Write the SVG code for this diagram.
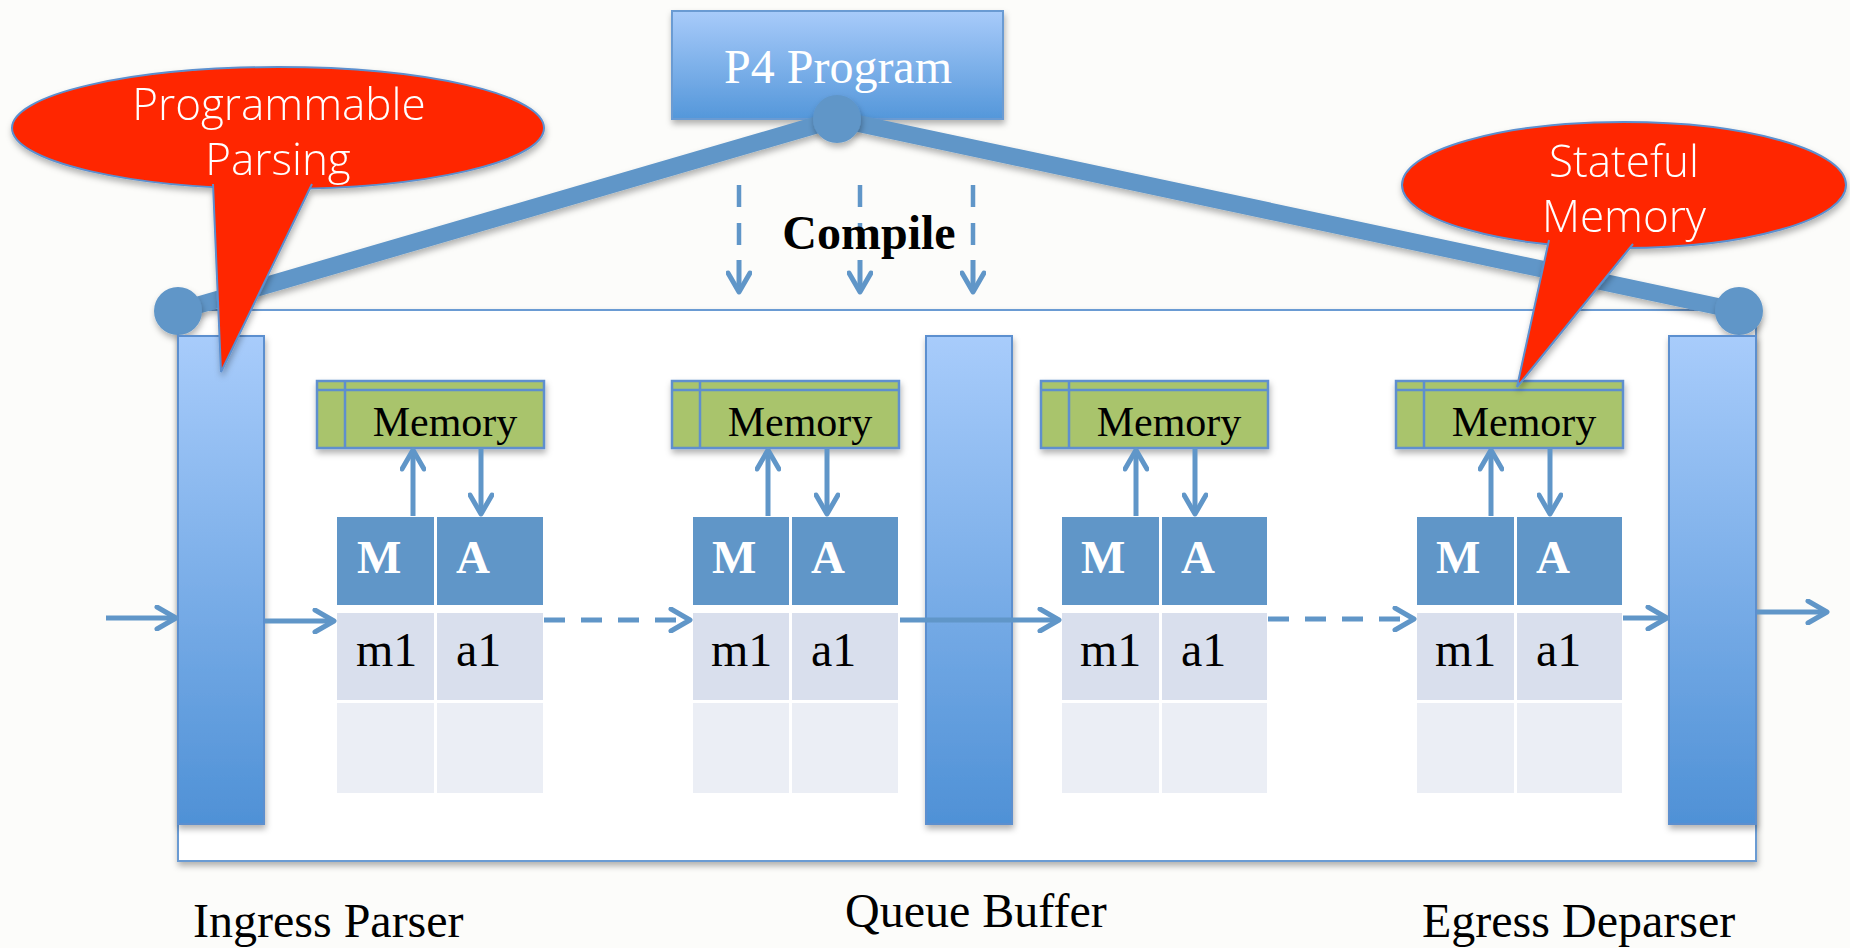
<svg xmlns="http://www.w3.org/2000/svg" width="1850" height="948" viewBox="0 0 1850 948">
<defs>
<linearGradient id="barGrad" x1="0" y1="0" x2="0" y2="1">
<stop offset="0" stop-color="#a8ccfb"/>
<stop offset="1" stop-color="#4f91d6"/>
</linearGradient>
<linearGradient id="p4Grad" x1="0" y1="0" x2="0" y2="1">
<stop offset="0" stop-color="#a8cbfa"/>
<stop offset="1" stop-color="#5497da"/>
</linearGradient>
<filter id="sh" x="-10%" y="-10%" width="130%" height="140%">
<feDropShadow dx="1" dy="4" stdDeviation="3" flood-color="#000" flood-opacity="0.3"/>
</filter>
<marker id="chev" viewBox="0 0 26 26" markerWidth="26" markerHeight="26" refX="22" refY="13" orient="auto" markerUnits="userSpaceOnUse">
<path d="M3,2 L22,13 L3,24" fill="none" stroke="#6096c8" stroke-width="5" stroke-linecap="round" stroke-linejoin="round"/>
</marker>
<style>
.bar{fill:url(#barGrad);stroke:#5b8fcf;stroke-width:2}
.mem{fill:#a9c46c;stroke:#5e8fce;stroke-width:2.5}
.memln{stroke:#5e8fce;stroke-width:2.5}
.hdr{fill:#6096c8}
.r1{fill:#d9dfed}
.r2{fill:#ebeef5}
.serif{font-family:"Liberation Serif","Times New Roman",serif}
.memtxt{font-size:42px;fill:#000;text-anchor:middle}
.hdrtxt{font-size:47px;font-weight:bold;fill:#fff}
.celltxt{font-size:48px;fill:#000}
.lbl{font-size:48px;fill:#000}
.arr{fill:none;stroke:#6096c8;stroke-width:5;marker-end:url(#chev)}
.dash{stroke-dasharray:21 16}
.thick{stroke:#6096c8;stroke-width:17;fill:none}
.callout{fill:#ff2600;stroke:#5b8fcf;stroke-width:2}
.ctxt{font-family:"Open Sans","Noto Sans",sans-serif;font-weight:300;font-size:44px;fill:#fff;text-anchor:middle}
</style>
</defs>
<rect x="0" y="0" width="1850" height="948" fill="#fcfcfa"/>

<g id="switch-box">
<rect x="178" y="310" width="1578" height="551" fill="#ffffff" stroke="#6a9bd3" stroke-width="2" filter="url(#sh)"/>
</g>

<g id="p4-program">
<rect x="672" y="11" width="331" height="108" fill="url(#p4Grad)" stroke="#6a9bd3" stroke-width="2" filter="url(#sh)"/>
<text x="838" y="83" class="serif" font-size="48" fill="#fff" text-anchor="middle">P4 Program</text>
</g>

<g id="compile-lines">
<line x1="837" y1="119" x2="178" y2="311" class="thick" filter="url(#sh)"/>
<line x1="837" y1="119" x2="1739" y2="311" class="thick" filter="url(#sh)"/>
<circle cx="837" cy="119" r="24" fill="#6096c8" filter="url(#sh)"/>
<circle cx="178" cy="311" r="24" fill="#6096c8" filter="url(#sh)"/>
<circle cx="1739" cy="311" r="24" fill="#6096c8" filter="url(#sh)"/>
</g>

<g id="compile">
<g stroke="#6096c8" stroke-width="4.5" fill="none">
<line x1="739" y1="185" x2="739" y2="207"/><line x1="739" y1="223" x2="739" y2="245"/>
<line x1="860" y1="185" x2="860" y2="207"/><line x1="860" y1="223" x2="860" y2="245"/>
<line x1="973" y1="185" x2="973" y2="207"/><line x1="973" y1="223" x2="973" y2="245"/>
</g>
<line x1="739" y1="260" x2="739" y2="292" class="arr"/>
<line x1="860" y1="260" x2="860" y2="292" class="arr"/>
<line x1="973" y1="260" x2="973" y2="292" class="arr"/>
<text x="869" y="249" class="serif" font-size="48" font-weight="bold" fill="#000" text-anchor="middle">Compile</text>
</g>

<g id="ingress-parser">
<rect x="178" y="336" width="86" height="488" class="bar" filter="url(#sh)"/>
<text x="193" y="937" class="serif lbl">Ingress Parser</text>
</g>
<g id="queue-buffer">
<rect x="926" y="336" width="86" height="488" class="bar" filter="url(#sh)"/>
<text x="845" y="927" class="serif lbl">Queue Buffer</text>
</g>
<g id="egress-deparser">
<rect x="1669" y="336" width="87" height="488" class="bar" filter="url(#sh)"/>
<text x="1422" y="937" class="serif lbl">Egress Deparser</text>
</g>

<g id="stage1">
<rect x="317" y="381" width="227" height="67" class="mem" filter="url(#sh)"/>
<line x1="345" y1="381" x2="345" y2="448" class="memln"/><line x1="317" y1="390" x2="544" y2="390" class="memln"/>
<text x="445" y="436" class="serif memtxt">Memory</text>
<rect x="337" y="517" width="97" height="88" class="hdr"/><rect x="437" y="517" width="106" height="88" class="hdr"/>
<rect x="337" y="613" width="97" height="87" class="r1"/><rect x="437" y="613" width="106" height="87" class="r1"/>
<rect x="337" y="703" width="97" height="90" class="r2"/><rect x="437" y="703" width="106" height="90" class="r2"/>
<text x="357" y="573" class="serif hdrtxt">M</text><text x="456" y="573" class="serif hdrtxt">A</text>
<text x="356" y="666" class="serif celltxt">m1</text><text x="456" y="666" class="serif celltxt">a1</text>
</g>
<g id="stage2">
<rect x="672" y="381" width="227" height="67" class="mem" filter="url(#sh)"/>
<line x1="700" y1="381" x2="700" y2="448" class="memln"/><line x1="672" y1="390" x2="899" y2="390" class="memln"/>
<text x="800" y="436" class="serif memtxt">Memory</text>
<rect x="693" y="517" width="96" height="88" class="hdr"/><rect x="792" y="517" width="106" height="88" class="hdr"/>
<rect x="693" y="613" width="96" height="87" class="r1"/><rect x="792" y="613" width="106" height="87" class="r1"/>
<rect x="693" y="703" width="96" height="90" class="r2"/><rect x="792" y="703" width="106" height="90" class="r2"/>
<text x="712" y="573" class="serif hdrtxt">M</text><text x="811" y="573" class="serif hdrtxt">A</text>
<text x="711" y="666" class="serif celltxt">m1</text><text x="811" y="666" class="serif celltxt">a1</text>
</g>
<g id="stage3">
<rect x="1041" y="381" width="227" height="67" class="mem" filter="url(#sh)"/>
<line x1="1069" y1="381" x2="1069" y2="448" class="memln"/><line x1="1041" y1="390" x2="1268" y2="390" class="memln"/>
<text x="1169" y="436" class="serif memtxt">Memory</text>
<rect x="1062" y="517" width="97" height="88" class="hdr"/><rect x="1162" y="517" width="105" height="88" class="hdr"/>
<rect x="1062" y="613" width="97" height="87" class="r1"/><rect x="1162" y="613" width="105" height="87" class="r1"/>
<rect x="1062" y="703" width="97" height="90" class="r2"/><rect x="1162" y="703" width="105" height="90" class="r2"/>
<text x="1081" y="573" class="serif hdrtxt">M</text><text x="1181" y="573" class="serif hdrtxt">A</text>
<text x="1080" y="666" class="serif celltxt">m1</text><text x="1181" y="666" class="serif celltxt">a1</text>
</g>
<g id="stage4">
<rect x="1396" y="381" width="227" height="67" class="mem" filter="url(#sh)"/>
<line x1="1424" y1="381" x2="1424" y2="448" class="memln"/><line x1="1396" y1="390" x2="1623" y2="390" class="memln"/>
<text x="1524" y="436" class="serif memtxt">Memory</text>
<rect x="1417" y="517" width="97" height="88" class="hdr"/><rect x="1517" y="517" width="105" height="88" class="hdr"/>
<rect x="1417" y="613" width="97" height="87" class="r1"/><rect x="1517" y="613" width="105" height="87" class="r1"/>
<rect x="1417" y="703" width="97" height="90" class="r2"/><rect x="1517" y="703" width="105" height="90" class="r2"/>
<text x="1436" y="573" class="serif hdrtxt">M</text><text x="1536" y="573" class="serif hdrtxt">A</text>
<text x="1435" y="666" class="serif celltxt">m1</text><text x="1536" y="666" class="serif celltxt">a1</text>
</g>

<g id="connectors">
<line x1="413" y1="516" x2="413" y2="450" class="arr"/>
<line x1="481" y1="448" x2="481" y2="514" class="arr"/>
<line x1="768" y1="516" x2="768" y2="450" class="arr"/>
<line x1="827" y1="448" x2="827" y2="514" class="arr"/>
<line x1="1136" y1="516" x2="1136" y2="450" class="arr"/>
<line x1="1195" y1="448" x2="1195" y2="514" class="arr"/>
<line x1="1491" y1="516" x2="1491" y2="450" class="arr"/>
<line x1="1550" y1="448" x2="1550" y2="514" class="arr"/>
<line x1="106" y1="618" x2="176" y2="618" class="arr"/>
<line x1="265" y1="621" x2="334" y2="621" class="arr"/>
<line x1="544" y1="620" x2="690" y2="620" class="arr dash"/>
<line x1="900" y1="620" x2="1059" y2="620" class="arr"/>
<line x1="1268" y1="619" x2="1414" y2="619" class="arr dash"/>
<line x1="1623" y1="618" x2="1667" y2="618" class="arr"/>
<line x1="1757" y1="612" x2="1827" y2="612" class="arr"/>
</g>

<g id="callout-parsing" filter="url(#sh)">
<ellipse cx="278" cy="128" rx="266" ry="61" class="callout"/>
<path d="M213,184 L221,372 L312,184" class="callout"/>
<text x="279" y="120" class="ctxt">Programmable</text>
<text x="278" y="175" class="ctxt">Parsing</text>
</g>
<g id="callout-memory" filter="url(#sh)">
<ellipse cx="1624" cy="185" rx="222" ry="63" class="callout"/>
<path d="M1549,240 L1517,387 L1633,244" class="callout"/>
<text x="1624" y="177" class="ctxt">Stateful</text>
<text x="1624" y="232" class="ctxt">Memory</text>
</g>
</svg>
